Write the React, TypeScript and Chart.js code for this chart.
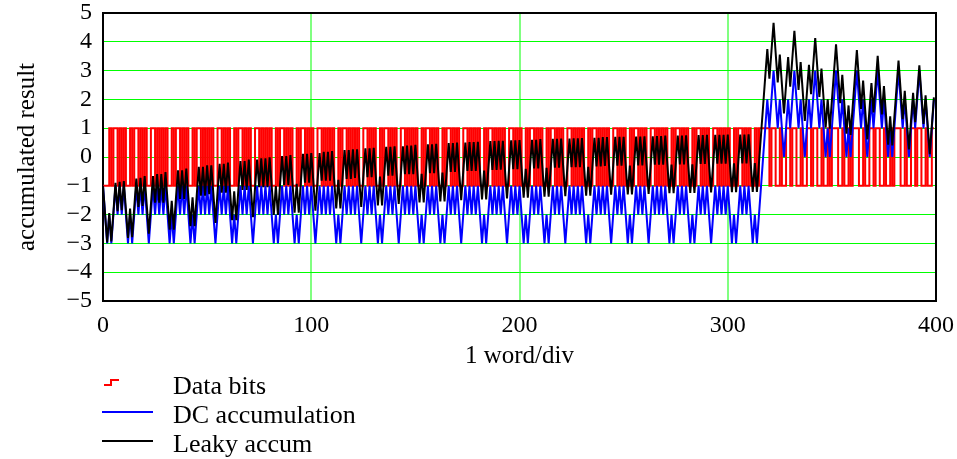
import React, { useEffect, useRef } from 'react';
import { Chart, registerables } from 'chart.js';

Chart.register(...registerables);

const FONT = "'Liberation Serif', 'Times New Roman', serif";

const seriesNames = ['Data bits', 'DC accumulation', 'Leaky accum'];
const seriesColors = ['#ff0000', '#0000ff', '#000000'];
const xTitle = '1 word/div';
const yTitle = 'accumulated result';
const xTickValues = [0, 100, 200, 300, 400];
const yTickValues = [-5, -4, -3, -2, -1, 0, 1, 2, 3, 4, 5];

// one row = one 10-bit word
const dataBits = [
  -1, -1, -1, 1, -1, 1, 1, -1, 1, -1,
  1, -1, -1, 1, -1, 1, 1, -1, 1, -1,
  1, -1, -1, 1, 1, -1, 1, -1, 1, -1,
  1, -1, -1, 1, -1, 1, 1, -1, 1, -1,
  1, -1, -1, 1, -1, 1, 1, -1, 1, -1,
  1, -1, 1, -1, -1, 1, 1, -1, 1, -1,
  1, -1, -1, 1, -1, 1, 1, -1, 1, -1,
  1, -1, -1, 1, 1, -1, 1, -1, 1, -1,
  1, -1, -1, 1, -1, 1, 1, -1, 1, -1,
  1, -1, -1, 1, -1, 1, 1, -1, 1, -1,
  1, -1, -1, 1, 1, -1, 1, -1, 1, -1,
  1, -1, -1, 1, -1, 1, 1, -1, 1, -1,
  1, -1, 1, -1, -1, 1, 1, -1, 1, -1,
  1, -1, -1, 1, -1, 1, 1, -1, 1, -1,
  1, -1, -1, 1, 1, -1, 1, -1, 1, -1,
  1, -1, -1, 1, -1, 1, 1, -1, 1, -1,
  1, -1, -1, 1, -1, 1, 1, -1, 1, -1,
  1, -1, -1, 1, 1, -1, 1, -1, 1, -1,
  1, -1, -1, 1, -1, 1, 1, -1, 1, -1,
  1, -1, 1, -1, -1, 1, 1, -1, 1, -1,
  1, -1, -1, 1, -1, 1, 1, -1, 1, -1,
  1, -1, -1, 1, -1, 1, 1, -1, 1, -1,
  1, -1, -1, 1, 1, -1, 1, -1, 1, -1,
  1, -1, -1, 1, -1, 1, 1, -1, 1, -1,
  1, -1, 1, -1, -1, 1, 1, -1, 1, -1,
  1, -1, -1, 1, -1, 1, 1, -1, 1, -1,
  1, -1, -1, 1, 1, -1, 1, -1, 1, -1,
  1, -1, -1, 1, -1, 1, 1, -1, 1, -1,
  1, -1, -1, 1, -1, 1, 1, -1, 1, -1,
  1, -1, -1, 1, 1, -1, 1, -1, 1, -1,
  1, -1, -1, 1, -1, 1, 1, -1, 1, -1,
  1, -1, -1, 1, -1, 1, 1, 1, 1, 1,
  -1, 1, 1, -1, -1, 1, -1, -1, 1, 1,
  -1, 1, 1, -1, -1, 1, -1, -1, 1, 1,
  -1, 1, 1, -1, -1, 1, -1, -1, 1, -1,
  1, 1, 1, -1, -1, 1, -1, -1, 1, -1,
  1, 1, 1, -1, -1, 1, -1, -1, 1, 1,
  -1, 1, 1, -1, -1, 1, -1, -1, 1, -1,
  1, 1, 1, -1, -1, 1, -1, -1, 1, 1,
  -1, 1, 1, -1, -1, 1, -1, -1, 1, 1,
];

const dcAccum = [
  -1, -2, -3, -2, -3, -2, -1, -2, -1, -2,
  -1, -2, -3, -2, -3, -2, -1, -2, -1, -2,
  -1, -2, -3, -2, -1, -2, -1, -2, -1, -2,
  -1, -2, -3, -2, -3, -2, -1, -2, -1, -2,
  -1, -2, -3, -2, -3, -2, -1, -2, -1, -2,
  -1, -2, -1, -2, -3, -2, -1, -2, -1, -2,
  -1, -2, -3, -2, -3, -2, -1, -2, -1, -2,
  -1, -2, -3, -2, -1, -2, -1, -2, -1, -2,
  -1, -2, -3, -2, -3, -2, -1, -2, -1, -2,
  -1, -2, -3, -2, -3, -2, -1, -2, -1, -2,
  -1, -2, -3, -2, -1, -2, -1, -2, -1, -2,
  -1, -2, -3, -2, -3, -2, -1, -2, -1, -2,
  -1, -2, -1, -2, -3, -2, -1, -2, -1, -2,
  -1, -2, -3, -2, -3, -2, -1, -2, -1, -2,
  -1, -2, -3, -2, -1, -2, -1, -2, -1, -2,
  -1, -2, -3, -2, -3, -2, -1, -2, -1, -2,
  -1, -2, -3, -2, -3, -2, -1, -2, -1, -2,
  -1, -2, -3, -2, -1, -2, -1, -2, -1, -2,
  -1, -2, -3, -2, -3, -2, -1, -2, -1, -2,
  -1, -2, -1, -2, -3, -2, -1, -2, -1, -2,
  -1, -2, -3, -2, -3, -2, -1, -2, -1, -2,
  -1, -2, -3, -2, -3, -2, -1, -2, -1, -2,
  -1, -2, -3, -2, -1, -2, -1, -2, -1, -2,
  -1, -2, -3, -2, -3, -2, -1, -2, -1, -2,
  -1, -2, -1, -2, -3, -2, -1, -2, -1, -2,
  -1, -2, -3, -2, -3, -2, -1, -2, -1, -2,
  -1, -2, -3, -2, -1, -2, -1, -2, -1, -2,
  -1, -2, -3, -2, -3, -2, -1, -2, -1, -2,
  -1, -2, -3, -2, -3, -2, -1, -2, -1, -2,
  -1, -2, -3, -2, -1, -2, -1, -2, -1, -2,
  -1, -2, -3, -2, -3, -2, -1, -2, -1, -2,
  -1, -2, -3, -2, -3, -2, -1, 0, 1, 2,
  1, 2, 3, 2, 1, 2, 1, 0, 1, 2,
  1, 2, 3, 2, 1, 2, 1, 0, 1, 2,
  1, 2, 3, 2, 1, 2, 1, 0, 1, 0,
  1, 2, 3, 2, 1, 2, 1, 0, 1, 0,
  1, 2, 3, 2, 1, 2, 1, 0, 1, 2,
  1, 2, 3, 2, 1, 2, 1, 0, 1, 0,
  1, 2, 3, 2, 1, 2, 1, 0, 1, 2,
  1, 2, 3, 2, 1, 2, 1, 0, 1, 2,
];

const leakyAccum = [
  -1.00, -1.98, -2.97, -1.95, -2.93, -1.91, -0.90, -1.88, -0.86, -1.85,
  -0.84, -1.82, -2.81, -1.79, -2.78, -1.76, -0.75, -1.73, -0.72, -1.70,
  -0.66, -1.66, -2.66, -1.66, -0.66, -1.59, -0.59, -1.59, -0.59, -1.59,
  -0.52, -1.52, -2.52, -1.52, -2.52, -1.46, -0.46, -1.46, -0.46, -1.46,
  -0.40, -1.40, -2.40, -1.40, -2.40, -1.34, -0.34, -1.34, -0.34, -1.34,
  -0.29, -1.29, -0.29, -1.29, -2.29, -1.24, -0.24, -1.24, -0.24, -1.24,
  -0.19, -1.19, -2.19, -1.19, -2.19, -1.14, -0.14, -1.14, -0.14, -1.14,
  -0.09, -1.09, -2.09, -1.09, -0.09, -1.05, -0.05, -1.05, -0.05, -1.05,
  -0.01, -1.01, -2.01, -1.01, -2.01, -0.97, 0.03, -0.97, 0.03, -0.97,
  0.07, -0.93, -1.93, -0.93, -1.93, -0.89, 0.11, -0.89, 0.11, -0.89,
  0.14, -0.86, -1.86, -0.86, 0.14, -0.82, 0.18, -0.82, 0.18, -0.82,
  0.21, -0.79, -1.79, -0.79, -1.79, -0.76, 0.24, -0.76, 0.24, -0.76,
  0.27, -0.73, 0.27, -0.73, -1.73, -0.70, 0.30, -0.70, 0.30, -0.70,
  0.32, -0.68, -1.68, -0.68, -1.68, -0.65, 0.35, -0.65, 0.35, -0.65,
  0.37, -0.63, -1.63, -0.63, 0.37, -0.60, 0.40, -0.60, 0.40, -0.60,
  0.42, -0.58, -1.58, -0.58, -1.58, -0.56, 0.44, -0.56, 0.44, -0.56,
  0.46, -0.54, -1.54, -0.54, -1.54, -0.52, 0.48, -0.52, 0.48, -0.52,
  0.50, -0.50, -1.50, -0.50, 0.50, -0.48, 0.52, -0.48, 0.52, -0.48,
  0.53, -0.47, -1.47, -0.47, -1.47, -0.45, 0.55, -0.45, 0.55, -0.45,
  0.56, -0.44, 0.56, -0.44, -1.44, -0.42, 0.58, -0.42, 0.58, -0.42,
  0.59, -0.41, -1.41, -0.41, -1.41, -0.40, 0.60, -0.40, 0.60, -0.40,
  0.62, -0.38, -1.38, -0.38, -1.38, -0.37, 0.63, -0.37, 0.63, -0.37,
  0.64, -0.36, -1.36, -0.36, 0.64, -0.35, 0.65, -0.35, 0.65, -0.35,
  0.66, -0.34, -1.34, -0.34, -1.34, -0.33, 0.67, -0.33, 0.67, -0.33,
  0.69, -0.31, 0.69, -0.31, -1.31, -0.30, 0.70, -0.30, 0.70, -0.30,
  0.70, -0.30, -1.30, -0.30, -1.30, -0.29, 0.71, -0.29, 0.71, -0.29,
  0.72, -0.28, -1.28, -0.28, 0.72, -0.27, 0.73, -0.27, 0.73, -0.27,
  0.74, -0.26, -1.26, -0.26, -1.26, -0.26, 0.74, -0.26, 0.74, -0.26,
  0.75, -0.25, -1.25, -0.25, -1.25, -0.24, 0.76, -0.24, 0.76, -0.24,
  0.77, -0.23, -1.23, -0.23, 0.77, -0.23, 0.77, -0.23, 0.77, -0.23,
  0.78, -0.22, -1.22, -0.22, -1.22, -0.22, 0.78, -0.22, 0.78, -0.22,
  0.79, -0.21, -1.21, -0.21, -1.21, -0.20, 0.80, 1.79, 2.78, 3.75,
  2.72, 3.69, 4.66, 3.62, 2.59, 3.56, 2.53, 1.51, 2.50, 3.47,
  2.44, 3.41, 4.38, 3.36, 2.33, 3.30, 2.28, 1.25, 2.22, 3.20,
  2.18, 3.15, 4.13, 3.11, 2.09, 3.07, 2.04, 1.02, 2.00, 0.98,
  1.95, 2.93, 3.91, 2.89, 1.87, 2.85, 1.83, 0.81, 1.79, 0.77,
  1.75, 2.73, 3.71, 2.69, 1.67, 2.65, 1.63, 0.61, 1.59, 2.57,
  1.55, 2.53, 3.51, 2.50, 1.48, 2.46, 1.45, 0.43, 1.41, 0.40,
  1.38, 2.36, 3.35, 2.33, 1.31, 2.30, 1.28, 0.26, 1.25, 2.23,
  1.21, 2.20, 3.18, 2.17, 1.15, 2.14, 1.12, 0.10, 1.09, 2.07,
];

const toPoints = (arr: number[]) => arr.map((y, i) => ({ x: i, y }));

const decorPlugin = {
  id: 'decor',
  beforeDatasetsDraw(chart: any) {
    const { ctx, chartArea: a } = chart;
    ctx.save();
    ctx.strokeStyle = '#000';
    ctx.lineWidth = 2;
    ctx.strokeRect(a.left, a.top, a.right - a.left, a.bottom - a.top);
    ctx.restore();
  },
  afterDraw(chart: any) {
    const { ctx, chartArea: a } = chart;
    ctx.save();
    ctx.fillStyle = '#000';
    ctx.font = `25px ${FONT}`;
    ctx.textAlign = 'center';
    ctx.textBaseline = 'alphabetic';
    ctx.fillText(xTitle, (a.left + a.right) / 2, a.bottom + 62);
    ctx.save();
    ctx.translate(34, (a.top + a.bottom) / 2);
    ctx.rotate(-Math.PI / 2);
    ctx.fillText(yTitle, 0, 0);
    ctx.restore();

    // legend
    const baselines = [394, 423, 452];
    ctx.font = `26px ${FONT}`;
    ctx.textAlign = 'left';
    seriesNames.forEach((name, i) => ctx.fillText(name, 173, baselines[i]));
    ctx.lineWidth = 2;
    ctx.strokeStyle = seriesColors[0];
    ctx.beginPath();
    ctx.moveTo(104, 385);
    ctx.lineTo(111, 385);
    ctx.lineTo(111, 380);
    ctx.lineTo(119, 380);
    ctx.stroke();
    ctx.strokeStyle = seriesColors[1];
    ctx.beginPath();
    ctx.moveTo(102, 412);
    ctx.lineTo(153, 412);
    ctx.stroke();
    ctx.strokeStyle = seriesColors[2];
    ctx.beginPath();
    ctx.moveTo(102, 441);
    ctx.lineTo(153, 441);
    ctx.stroke();
    ctx.restore();
  },
};

export default function App() {
  const canvasRef = useRef<HTMLCanvasElement>(null);

  useEffect(() => {
    if (!canvasRef.current) return;
    const chart = new Chart(canvasRef.current, {
      type: 'line',
      data: {
        datasets: [
          {
            label: seriesNames[2],
            data: toPoints(leakyAccum),
            borderColor: seriesColors[2],
            borderWidth: 2,
            pointRadius: 0,
            pointHoverRadius: 0,
            tension: 0,
            order: 0,
          },
          {
            label: seriesNames[1],
            data: toPoints(dcAccum),
            borderColor: seriesColors[1],
            borderWidth: 2,
            pointRadius: 0,
            pointHoverRadius: 0,
            tension: 0,
            order: 1,
          },
          {
            label: seriesNames[0],
            data: toPoints(dataBits),
            borderColor: seriesColors[0],
            borderWidth: 2,
            pointRadius: 0,
            pointHoverRadius: 0,
            stepped: true,
            order: 2,
          },
        ],
      },
      options: {
        animation: false,
        responsive: false,
        devicePixelRatio: 1,
        events: [],
        layout: { autoPadding: false, padding: { left: 0, top: 13, right: 21, bottom: 0 } },
        plugins: { legend: { display: false }, tooltip: { enabled: false } },
        scales: {
          x: {
            type: 'linear',
            min: 0,
            max: 400,
            afterFit: (s: any) => {
              s.height = 158;
              s.paddingLeft = 0;
              s.paddingRight = 0;
            },
            afterBuildTicks: (s: any) => { s.ticks = xTickValues.map((v) => ({ value: v })); },
            ticks: {
              color: '#000',
              padding: 13,
              font: { family: FONT, size: 24, lineHeight: 1 },
              maxRotation: 0,
            },
            grid: { color: '#80ff80', lineWidth: 2, drawTicks: false },
            border: { display: false },
          },
          y: {
            type: 'linear',
            min: -5,
            max: 5,
            afterFit: (s: any) => {
              s.width = 103;
              s.paddingTop = 0;
              s.paddingBottom = 0;
            },
            afterBuildTicks: (s: any) => { s.ticks = yTickValues.map((v) => ({ value: v })); },
            ticks: {
              color: '#000',
              padding: 11,
              font: { family: FONT, size: 24, lineHeight: 1 },
              callback: (v: any) => (v < 0 ? '\u2212' + Math.abs(v) : String(v)),
            },
            grid: { color: '#00ff00', lineWidth: 1, drawTicks: false },
            border: { display: false },
          },
        },
      },
      plugins: [decorPlugin],
    });
    return () => chart.destroy();
  }, []);

  return (
    <div style={{ position: 'fixed', left: 0, top: 0, width: 957, height: 459, background: '#fff' }}>
      <canvas ref={canvasRef} width={957} height={459} style={{ display: 'block' }} />
    </div>
  );
}
